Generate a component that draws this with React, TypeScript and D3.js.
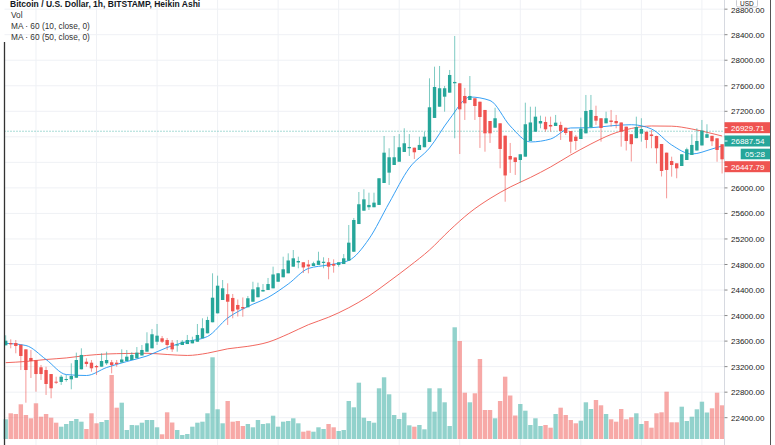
import React from 'react';
import * as d3 from 'd3';

const W = 775;
const H = 445;

// Heikin Ashi candles (1h), index 0..142
const openP = [
  23534, 23570, 23570, 23543, 23471, 23336, 23304, 23190, 23147, 23084,
  22964, 22960, 22991, 23001, 23026, 23158, 23277, 23262, 23210, 23199,
  23252, 23268, 23262, 23265, 23288, 23304, 23331, 23375, 23434, 23487,
  23590, 23644, 23617, 23575, 23531, 23539, 23554, 23565, 23590, 23644,
  23722, 23895, 24035, 24244, 24334, 24276, 24166, 24134, 24130, 24217,
  24287, 24378, 24401, 24427, 24530, 24600, 24662, 24766, 24832, 24835,
  24801, 24777, 24793, 24824, 24835, 24808, 24793, 24808, 24860, 25000,
  25434, 25643, 25697, 25697, 25733, 26077, 26239, 26359, 26410, 26563,
  26621, 26630, 26594, 26637, 26720, 27096, 27272, 27429, 27492, 27639,
  27639, 27440, 27377, 27404, 27350, 27221, 27048, 26943, 27012, 26818,
  26500, 26477, 26437, 26489, 26735, 26880, 27009, 27033, 26986, 26970,
  26986, 26943, 26891, 26802, 26766, 26855, 26947, 27127, 27091, 27012,
  27056, 27048, 27025, 26959, 26841, 26779, 26849, 26880, 26837, 26813,
  26688, 26552, 26421, 26385, 26343, 26437, 26516, 26586, 26665, 26785,
  26816, 26777, 26684,
];
const closeP = [
  23606, 23550, 23523, 23367, 23147, 23288, 23084, 23084, 22928, 22861,
  22949, 23042, 23006, 23053, 23304, 23383, 23241, 23174, 23190, 23288,
  23304, 23226, 23241, 23312, 23356, 23383, 23419, 23461, 23565, 23707,
  23685, 23590, 23539, 23471, 23547, 23590, 23617, 23617, 23696, 23801,
  23931, 24280, 24468, 24427, 24217, 24067, 24095, 24111, 24271, 24411,
  24443, 24401, 24494, 24644, 24662, 24725, 24863, 24897, 24855, 24754,
  24769, 24819, 24860, 24843, 24766, 24782, 24835, 24897, 25142, 25497,
  25744, 25821, 25733, 25769, 26151, 26552, 26480, 26480, 26637, 26699,
  26641, 26558, 26673, 26802, 27263, 27581, 27561, 27561, 27769, 27660,
  27231, 27325, 27440, 27283, 27111, 26855, 26855, 27091, 26610, 26195,
  26445, 26406, 26527, 26997, 27025, 27116, 27048, 26918, 26962, 27022,
  26891, 26860, 26724, 26735, 26928, 27205, 27221, 27053, 26939, 27091,
  27033, 27012, 26880, 26735, 26685, 26954, 26923, 26751, 26813, 26621,
  26265, 26281, 26359, 26307, 26527, 26605, 26673, 26735, 26899, 26841,
  26731, 26594, 26447.79,
];
const highP = [
  23691, 23628, 23617, 23543, 23471, 23461, 23304, 23226, 23199, 23084,
  23042, 23069, 23069, 23252, 23419, 23487, 23331, 23304, 23226, 23409,
  23434, 23304, 23304, 23471, 23461, 23425, 23507, 23539, 23738, 23790,
  23868, 23680, 23649, 23617, 23617, 23617, 23696, 23669, 23868, 23957,
  23982, 24662, 24625, 24557, 24505, 24338, 24252, 24284, 24307, 24530,
  24515, 24494, 24589, 24766, 24667, 24922, 24975, 25027, 24922, 24835,
  24871, 24844, 25000, 24913, 24902, 24881, 24835, 24964, 25419, 25529,
  25936, 25978, 25925, 25925, 26151, 26813, 26621, 26813, 26844, 26934,
  26844, 26630, 26802, 26880, 27717, 27899, 27910, 27597, 27847, 28380,
  27639, 27566, 27753, 27404, 27350, 27221, 27048, 27256, 27012, 26818,
  26704, 26477, 26527, 27335, 27272, 27272, 27132, 27116, 27116, 27143,
  27037, 26943, 26891, 26829, 27100, 27456, 27456, 27288, 27091, 27194,
  27221, 27143, 27025, 26959, 26841, 27116, 27091, 26880, 26907, 26818,
  26688, 26552, 26489, 26385, 26527, 26630, 26840, 26934, 27064, 26997,
  26816, 26777, 26684,
];
const lowP = [
  23534, 23487, 23409, 23147, 22635, 23022, 22807, 22991, 22756, 22704,
  22928, 22913, 22964, 22845, 23026, 23158, 23199, 23120, 23069, 23199,
  23226, 23095, 23199, 23265, 23288, 23304, 23331, 23375, 23434, 23487,
  23539, 23570, 23461, 23430, 23434, 23539, 23554, 23565, 23590, 23644,
  23722, 23895, 24035, 24244, 23853, 23957, 23985, 23982, 24130, 24217,
  24287, 24374, 24401, 24427, 24530, 24600, 24662, 24766, 24741, 24667,
  24662, 24777, 24793, 24741, 24568, 24672, 24766, 24808, 24860, 25000,
  25434, 25643, 25654, 25697, 25733, 26077, 26046, 26359, 26410, 26563,
  26500, 26453, 26594, 26637, 26720, 27096, 27272, 27194, 27492, 26777,
  26531, 27064, 27377, 27064, 26626, 26567, 26704, 26943, 26307, 25784,
  26234, 26203, 26082, 26489, 26735, 26880, 26934, 26880, 26880, 26970,
  26751, 26829, 26542, 26594, 26766, 26855, 26947, 26986, 26724, 27012,
  26959, 26934, 26646, 26586, 26414, 26779, 26724, 26621, 26621, 26382,
  26179, 25837, 26176, 26151, 26343, 26437, 26516, 26586, 26665, 26785,
  26657, 26410, 26226,
];
const volumes = [
  197, 257, 250, 347, 240, 207, 357, 223, 250, 213,
  163, 123, 150, 180, 200, 173, 100, 257, 157, 170,
  190, 640, 313, 363, 90, 140, 137, 163, 190, 190,
  117, 47, 267, 165, 90, 40, 50, 123, 163, 173,
  257, 817, 297, 157, 380, 173, 180, 130, 150, 117,
  190, 150, 157, 233, 123, 173, 180, 207, 157, 73,
  83, 73, 117, 100, 150, 117, 80, 90, 380, 317,
  563, 213, 180, 163, 507, 617, 447, 240, 200, 263,
  137, 123, 140, 97, 507, 273, 507, 367, 130, 1117,
  980, 463, 367, 457, 800, 290, 290, 207, 380, 623,
  435, 235, 350, 283, 140, 207, 130, 140, 113, 250,
  313, 240, 190, 157, 183, 367, 300, 390, 337, 250,
  197, 173, 300, 197, 217, 257, 150, 180, 113, 257,
  267, 473, 167, 167, 323, 180, 223, 297, 373, 265,
  307, 463, 337,
];

const maIdx = [
  0, 4, 8, 12, 16, 20, 24, 28, 32, 36, 40, 44, 48, 52, 56, 60, 64, 68, 72,
  76, 80, 84, 88, 92, 96, 100, 104, 108, 112, 116, 120, 124, 128, 132, 136, 140, 142,
];
const ma10 = [
  23565, 23531, 23312, 23076, 23061, 23186, 23280, 23367, 23500, 23594, 23672,
  23962, 24142, 24284, 24494, 24738, 24793, 24863, 25200, 25764, 26312, 26625,
  27080, 27424, 27369, 26970, 26720, 26766, 26939, 26943, 26973, 26990, 26923,
  26673, 26531, 26610, 26657,
];
const ma50 = [
  23262, 23281, 23312, 23336, 23375, 23398, 23406, 23409, 23390, 23375, 23411,
  23479, 23518, 23583, 23711, 23857, 23974, 24122, 24307, 24534, 24772, 25027,
  25336, 25615, 25834, 26014, 26163, 26328, 26516, 26688, 26837, 26931, 26970,
  26967, 26923, 26852, 26813,
];

const priceTicks = [
  22400, 22800, 23200, 23600, 24000, 24400, 24800, 25200, 25600, 26000, 26400,
  26800, 27200, 27600, 28000, 28400, 28800,
];
const lastPrice = 26887.54;
const priceLabels = [
  { text: '26929.71', color: '#ef5350', cy: 127.7 },
  { text: '26887.54', color: '#26a69a', cy: 141 },
  { text: '26447.79', color: '#ef5350', cy: 166.7 },
];
const countdown = '05:28';
const title = 'Bitcoin / U.S. Dollar, 1h, BITSTAMP, Heikin Ashi';
const legendLines = ['Vol', 'MA · 60 (10, close, 0)', 'MA · 60 (50, close, 0)'];

const UP = '#26a69a';
const DOWN = '#ef5350';
const FONT = "'Liberation Sans', Arial, sans-serif";

export default function App() {
  const n = openP.length;
  const x = d3.scaleLinear().domain([0, 142]).range([5.7, 722.1]);
  const y = d3.scaleLinear().domain([22400, 28400]).range([417.7, 34.7]);
  const yv = d3.scaleLinear().domain([0, 1117]).range([439, 327.3]);

  const plotLeft = 4.5;
  const plotRight = 724.5;
  const gridIdx = d3.range(6, n, 12);

  const maLine = d3
    .line<number>()
    .x((_, k) => x(maIdx[k]))
    .y((d) => y(d))
    .curve(d3.curveMonotoneX);

  const bodyW = 3.4;
  const volW = 4.4;

  const hiddenTick = (p: number) =>
    priceLabels.some((l) => Math.abs(y(p) - l.cy) < 9);

  return (
    <svg
      width={W}
      height={H}
      style={{ position: 'absolute', left: 0, top: 0, background: '#fff' }}
      fontFamily={FONT}
    >
      <rect x={0} y={0} width={W} height={H} fill="#fff" />
      {/* horizontal grid */}
      {priceTicks.map((p) => (
        <line
          key={'hg' + p}
          x1={plotLeft}
          x2={plotRight}
          y1={y(p)}
          y2={y(p)}
          stroke="#eff1f5"
          strokeWidth={1}
        />
      ))}
      {/* vertical grid */}
      {gridIdx.map((i) => (
        <line
          key={'vg' + i}
          x1={x(i)}
          x2={x(i)}
          y1={0}
          y2={H}
          stroke="#eff1f5"
          strokeWidth={1}
        />
      ))}

      {/* volume */}
      {volumes.map((v, i) => {
        const up = closeP[i] >= openP[i];
        return (
          <rect
            key={'v' + i}
            x={x(i) - volW / 2}
            y={yv(v)}
            width={volW}
            height={yv(0) - yv(v)}
            fill={up ? 'rgba(38,166,154,0.5)' : 'rgba(239,83,80,0.5)'}
          />
        );
      })}

      {/* last price dotted line */}
      <line
        x1={plotLeft}
        x2={plotRight}
        y1={y(lastPrice)}
        y2={y(lastPrice)}
        stroke={UP}
        strokeOpacity={0.8}
        strokeWidth={1}
        strokeDasharray="1,2"
      />

      {/* MA lines */}
      <path d={maLine(ma50) || ''} fill="none" stroke="#f0584f" strokeWidth={1} strokeOpacity={0.9} />
      <path d={maLine(ma10) || ''} fill="none" stroke="#2196f3" strokeWidth={1} strokeOpacity={0.9} />

      {/* candles */}
      {openP.map((o, i) => {
        const c = closeP[i];
        const up = c >= o;
        const col = up ? UP : DOWN;
        const top = y(Math.max(o, c));
        const bot = y(Math.min(o, c));
        return (
          <g key={'c' + i}>
            <line
              x1={x(i)}
              x2={x(i)}
              y1={y(highP[i])}
              y2={y(lowP[i])}
              stroke={col}
              strokeOpacity={0.6}
              strokeWidth={1}
            />
            <rect
              x={x(i) - bodyW / 2}
              y={top}
              width={bodyW}
              height={Math.max(1, bot - top)}
              fill={col}
            />
          </g>
        );
      })}

      {/* right axis */}
      <rect x={plotRight} y={0} width={W - plotRight} height={H} fill="#fff" />
      <line x1={plotRight} x2={plotRight} y1={0} y2={H} stroke="#d6d9e0" strokeWidth={1} />
      <line x1={770.5} x2={770.5} y1={0} y2={H} stroke="#555" strokeWidth={1} />
      {priceTicks.map((p) => (
        <g key={'t' + p}>
          <line x1={plotRight} x2={plotRight + 3} y1={y(p)} y2={y(p)} stroke="#888" strokeWidth={1} />
          {!hiddenTick(p) && (
            <text x={731} y={Math.max(y(p) + 3, 12.5)} fontSize={8} fill="#222">
              {p.toFixed(2)}
            </text>
          )}
        </g>
      ))}

      {/* price labels */}
      {priceLabels.map((l) => (
        <g key={l.text}>
          <rect x={plotRight} y={l.cy - 5.5} width={45.5} height={11} fill={l.color} />
          <line x1={plotRight} x2={plotRight + 3} y1={l.cy} y2={l.cy} stroke="#fff" strokeWidth={1} />
          <text x={731} y={l.cy + 3} fontSize={8} fill="#fff">
            {l.text}
          </text>
        </g>
      ))}
      <rect x={740.7} y={148.7} width={29.3} height={10.6} fill={UP} />
      <text x={745} y={157} fontSize={8} fill="#fff">
        {countdown}
      </text>

      {/* USD box */}
      <rect x={736.5} y={-1} width={21} height={8} fill="#fff" stroke="#c8cbd2" strokeWidth={1} rx={1.5} />
      <text x={740} y={5.6} fontSize={6.5} fill="#222">
        USD
      </text>

      {/* left border */}
      <line x1={4.5} x2={4.5} y1={42} y2={H} stroke="#333" strokeWidth={1.3} />

      {/* legend */}
      <text x={10} y={7} fontSize={8.5} fontWeight="bold" fill="#131722">
        {title}
      </text>
      {legendLines.map((t, k) => (
        <text key={t} x={11} y={18.3 + k * 10.7} fontSize={8.3} fill="#333">
          {t}
        </text>
      ))}
    </svg>
  );
}
